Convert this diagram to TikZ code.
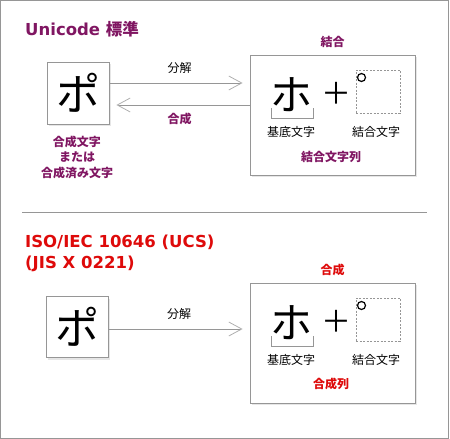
\documentclass[tikz,border=0pt]{standalone}
\usepackage{fontspec}
\setmainfont{Noto Sans CJK JP}
\newfontfamily\titlefont{DejaVu Sans}
\usepackage{xcolor}
\definecolor{unipurple}{RGB}{128, 22, 98}
\definecolor{isored}{RGB}{222, 10, 10}
\definecolor{framegray}{RGB}{150, 150, 150}
\definecolor{tipgray}{RGB}{175, 175, 175}
\usepackage{tikz}
\usetikzlibrary{arrows.meta,positioning,calc,shadows}

\begin{document}
\begin{tikzpicture}[x=1pt, y=-1pt, node distance=6pt, every node/.style={font=\fontsize{12}{14}\selectfont, inner sep=0pt}]
    \useasboundingbox (0,0) rectangle (450,439);
    % Outer frame
    \draw[framegray, line width=1.2pt] (0.8,0.8) rectangle (448.4,438.2);

    % Unicode section
    \node[anchor=west, text=unipurple, font=\fontsize{16.5}{18}\selectfont\bfseries] (unititle) at (25,29) {{\titlefont\bfseries Unicode }標準};
    \node[rectangle, draw=framegray, fill=white, line width=0.8pt, minimum width=62pt, minimum height=62pt, drop shadow={shadow xshift=2pt, shadow yshift=-2pt, opacity=0.2}, font=\fontsize{44}{48}\selectfont] (poA) at (78,93) {ポ};
    \node[align=center, text=unipurple, font=\fontsize{12}{15.5}\selectfont\bfseries] (precomp) at (77,157) {合成文字\\または\\合成済み文字};
    \node[rectangle, draw=framegray, fill=white, line width=0.8pt, minimum width=165pt, minimum height=120pt, drop shadow={shadow xshift=2pt, shadow yshift=-2pt, opacity=0.2}] (seqA) at (332.5,115) {};
    \node[above=7pt of seqA, text=unipurple, font=\fontsize{12}{14}\selectfont\bfseries] (combA) {結合};
    \node[font=\fontsize{42}{46}\selectfont] (hoA) at ($(seqA)+(-41.5,-20)$) {ホ};
    \node[font=\fontsize{30}{32}\selectfont] (plusA) at ($(seqA)+(3.5,-22)$) {＋};
    \node[rectangle, draw=framegray, line width=0.8pt, dash pattern=on 2pt off 1.5pt, minimum width=44pt, minimum height=43pt] (markA) at ($(seqA)+(45.5,-23.5)$) {};
    \node[circle, draw=black, line width=1.2pt, minimum size=8pt] (dotA) at ($(seqA)+(29,-37.5)$) {};
    \draw[framegray, line width=0.8pt] ($(hoA)+(-20,13)$) |- ($(hoA)+(22,23)$) -- ($(hoA)+(22,13)$);
    \node (baseA) at ($(seqA)+(-41.5,17)$) {基底文字};
    \node (marklabelA) at ($(seqA)+(43.5,17)$) {結合文字};
    \node[text=unipurple, font=\fontsize{12}{14}\selectfont\bfseries] (seqlabelA) at ($(seqA)+(-1.5,42)$) {結合文字列};

    % Decomposition and composition
    \draw[framegray, line width=0.8pt, -{Straight Barb[length=13pt, width=14pt, color=tipgray]}, shorten >=7pt] ([yshift=10pt]poA.east) -- ([yshift=10pt]poA.east -| seqA.west) node[midway, above=9pt, text=black] (decompA) {分解};
    \draw[framegray, line width=0.8pt, -{Straight Barb[length=13pt, width=14pt, color=tipgray]}, shorten >=7pt] ([yshift=-12pt]poA.east -| seqA.west) -- ([yshift=-12pt]poA.east) node[midway, below=8pt, text=unipurple, font=\fontsize{12}{14}\selectfont\bfseries] (compA) {合成};

    % Separator
    \draw[framegray, line width=0.8pt] (22,212) -- (427,212);

    % ISO/IEC section
    \node[anchor=west, align=left, text=isored, font=\fontsize{16.5}{21}\selectfont\titlefont\bfseries] (isotitle) at (25,253.5) {ISO/IEC 10646 (UCS)\\(JIS X 0221)};
    \node[rectangle, draw=framegray, fill=white, line width=0.8pt, minimum width=62pt, minimum height=61pt, drop shadow={shadow xshift=2pt, shadow yshift=-2pt, opacity=0.2}, font=\fontsize{44}{48}\selectfont] (poB) at (77,327) {ポ};
    \node[rectangle, draw=framegray, fill=white, line width=0.8pt, minimum width=165pt, minimum height=120pt, drop shadow={shadow xshift=2pt, shadow yshift=-2pt, opacity=0.2}] (seqB) at (332.5,343) {};
    \node[above=7pt of seqB, text=isored, font=\fontsize{12}{14}\selectfont\bfseries] (combB) {合成};
    \node[font=\fontsize{42}{46}\selectfont] (hoB) at ($(seqB)+(-41.5,-20)$) {ホ};
    \node[font=\fontsize{30}{32}\selectfont] (plusB) at ($(seqB)+(3.5,-22)$) {＋};
    \node[rectangle, draw=framegray, line width=0.8pt, dash pattern=on 2pt off 1.5pt, minimum width=44pt, minimum height=43pt] (markB) at ($(seqB)+(45.5,-23.5)$) {};
    \node[circle, draw=black, line width=1.2pt, minimum size=8pt] (dotB) at ($(seqB)+(29,-37.5)$) {};
    \draw[framegray, line width=0.8pt] ($(hoB)+(-20,13)$) |- ($(hoB)+(22,23)$) -- ($(hoB)+(22,13)$);
    \node (baseB) at ($(seqB)+(-41.5,17)$) {基底文字};
    \node (marklabelB) at ($(seqB)+(43.5,17)$) {結合文字};
    \node[text=isored, font=\fontsize{12}{14}\selectfont\bfseries] (seqlabelB) at ($(seqB)+(-1.5,41)$) {合成列};

    % Decomposition only
    \draw[framegray, line width=0.8pt, -{Straight Barb[length=13pt, width=14pt, color=tipgray]}, shorten >=7pt] ([yshift=-2pt]poB.east) -- ([yshift=-2pt]poB.east -| seqB.west) node[midway, above=9pt, text=black] (decompB) {分解};
\end{tikzpicture}
\end{document}
